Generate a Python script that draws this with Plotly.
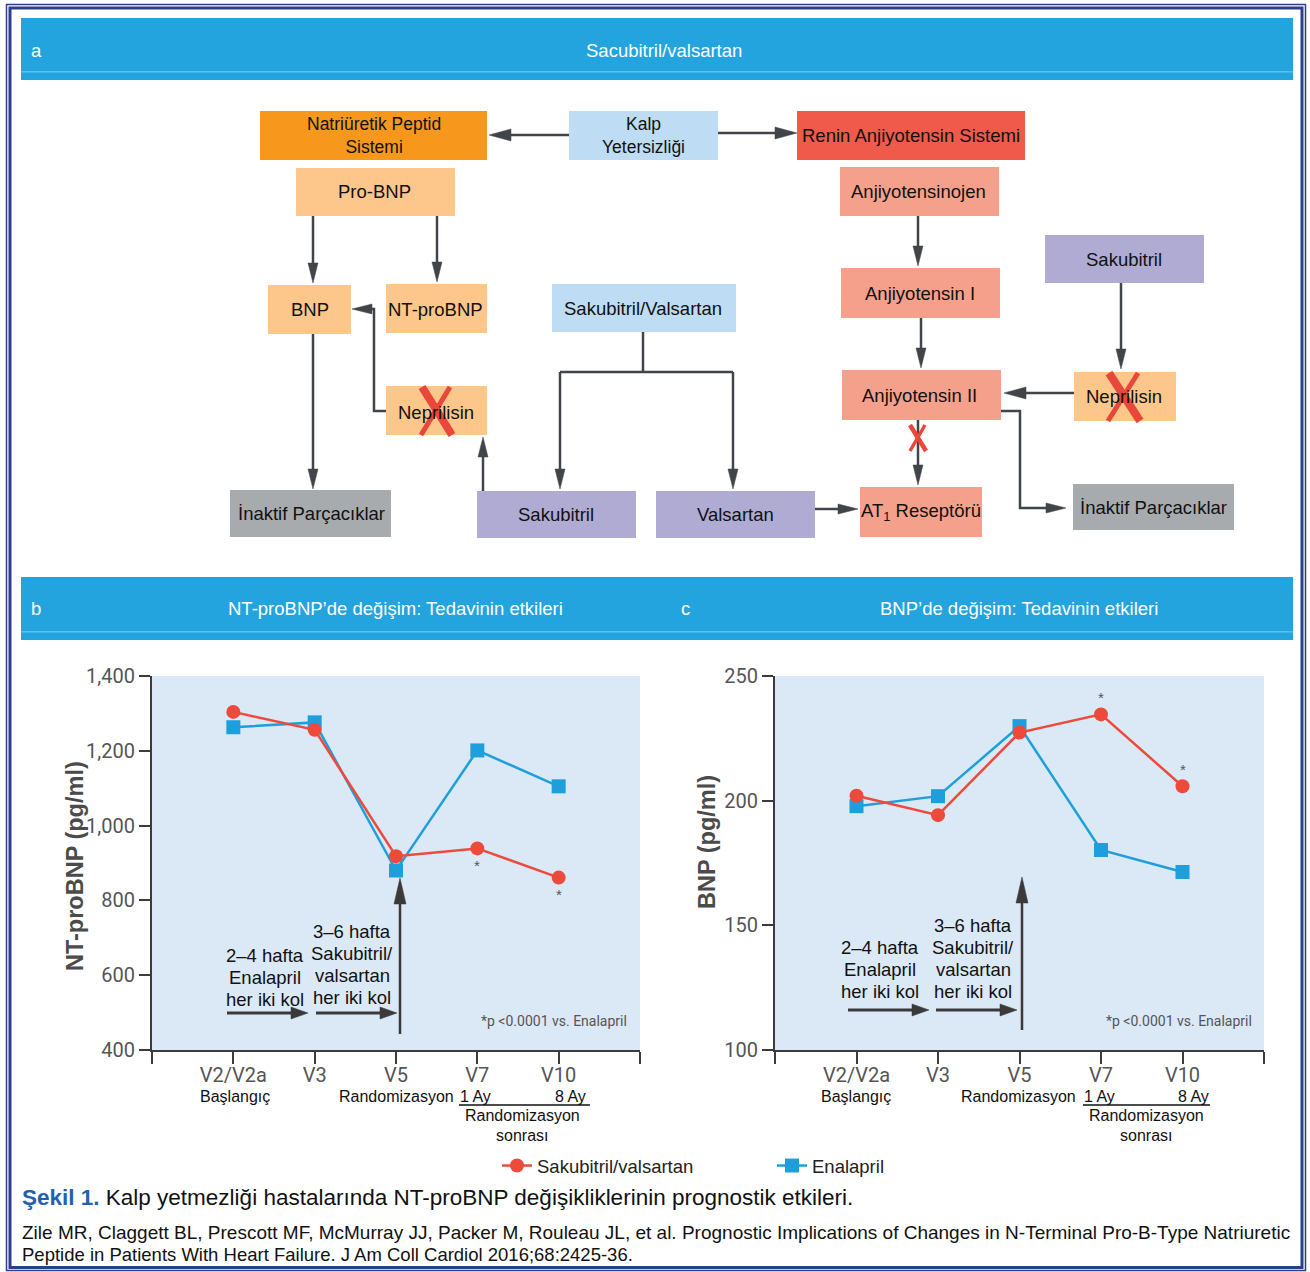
import plotly.graph_objects as go

# ---------------- data ----------------
categories = ["V2/V2a", "V3", "V5", "V7", "V10"]
ntprobnp_sacval = [1304, 1256, 918, 939, 861]
ntprobnp_enal = [1263, 1276, 880, 1201, 1105]
bnp_sacval = [202.0, 194.2, 227.3, 234.6, 205.8]
bnp_enal = [197.8, 201.8, 229.9, 180.2, 171.4]
ntprobnp_ticks = [400, 600, 800, 1000, 1200, 1400]
bnp_ticks = [100, 150, 200, 250]
series_names = ["Sakubitril/valsartan", "Enalapril"]
significant_points = ["V7", "V10"]

# ---------------- helpers ----------------
W, H = 1310, 1272
def X(p): return p / W
def Y(p): return 1 - p / H

SANS = "Liberation Sans, Arial, Helvetica, sans-serif"
COND = "Roboto, Liberation Sans, sans-serif"
RED = "#ee4a3b"
BLUE = "#1e9fdb"
DARK = "#414448"
HEADER = "#23a4de"
ORANGE = "#f7981d"
RENIN = "#ef5a4a"
PEACH = "#fdc68a"
SALMON = "#f5a08a"
LBLUE = "#bedcf3"
PURPLE = "#afabd2"
GREY = "#a8abae"
XRED = "#e9473a"
FS = 18.5

shapes = []
annotations = []

def rect(x0, y0, x1, y1, color, line=None, lw=0):
    d = dict(type="rect", xref="paper", yref="paper", x0=X(x0), x1=X(x1),
             y0=Y(y1), y1=Y(y0), fillcolor=color, line=dict(width=lw, color=line or color))
    if color is None:
        d["fillcolor"] = "rgba(0,0,0,0)"
    shapes.append(d)

def seg(x0, y0, x1, y1, color=DARK, width=2.5):
    shapes.append(dict(type="line", xref="paper", yref="paper", x0=X(x0), y0=Y(y0),
                       x1=X(x1), y1=Y(y1), line=dict(color=color, width=width)))

def path(pts, color=DARK, width=2.5, fill=None):
    s = "M " + " L ".join(f"{X(a):.6f},{Y(b):.6f}" for a, b in pts)
    d = dict(type="path", xref="paper", yref="paper", path=s + (" Z" if fill else ""),
             line=dict(color=color, width=width if not fill else 0.5))
    if fill:
        d["fillcolor"] = fill
    shapes.append(d)

def arrow(pts, hl=20, hw=5, color=DARK, width=2.5):
    (ax, ay), (tx, ty) = pts[-2], pts[-1]
    L = ((tx - ax) ** 2 + (ty - ay) ** 2) ** 0.5
    dx, dy = (tx - ax) / L, (ty - ay) / L
    bx, by = tx - dx * hl, ty - dy * hl
    path(list(pts[:-1]) + [(bx + dx * 2, by + dy * 2)], color=color, width=width)
    nx, ny = -dy, dx
    path([(tx, ty), (bx + nx * hw, by + ny * hw), (bx - nx * hw, by - ny * hw)],
         color=color, fill=color)

def text(x, y, t, size=FS, color="#111111", family=SANS, anchor="center", angle=0):
    annotations.append(dict(x=X(x), y=Y(y), xref="paper", yref="paper", text=t,
                            showarrow=False, xanchor=anchor, yanchor="middle",
                            font=dict(size=size, color=color, family=family),
                            textangle=angle))

# ---------------- frame & headers ----------------
rect(6.5, 4.5, 1305.5, 1270.5, None, line="#2c3f8f", lw=1.5)
rect(10, 8, 1302, 1267.5, None, line="#2c3f8f", lw=3)
rect(21, 18, 1293, 80, HEADER)
rect(21, 71, 1293, 72.5, "#5fbfe9")
rect(21, 577, 1293, 640, HEADER)
rect(21, 631, 1293, 632.5, "#5fbfe9")
text(29, 50, "a", FS, "white", anchor="left")
text(664, 50, "Sacubitril/valsartan", FS, "white")
text(29, 608, "b", FS, "white", anchor="left")
text(395, 608, "NT-proBNP’de değişim: Tedavinin etkileri", FS, "white")
text(679, 608, "c", FS, "white", anchor="left")
text(1019, 608, "BNP’de değişim: Tedavinin etkileri", FS, "white")

# ---------------- diagram ----------------
boxes = [
    (260, 111, 487, 160, ORANGE), (569, 111, 718, 160, LBLUE), (797, 111, 1025, 160, RENIN),
    (296, 168, 455, 216, PEACH), (840, 167, 999, 216, SALMON), (268, 285, 351, 334, PEACH),
    (386, 284, 487, 333, PEACH), (552, 284, 736, 332, LBLUE), (841, 268, 1000, 318, SALMON),
    (1045, 235, 1204, 283, PURPLE), (386, 386, 487, 435, PEACH), (842, 370, 1001, 420, SALMON),
    (1074, 372, 1176, 421, PEACH), (230, 490, 391, 537, GREY), (477, 491, 636, 538, PURPLE),
    (656, 491, 815, 538, PURPLE), (860, 487, 982, 537, SALMON), (1073, 484, 1234, 530, GREY),
]
for b in boxes:
    rect(*b)

arrow([(569, 135), (489, 135)], hl=22, hw=6)
arrow([(718, 133), (797, 133)], hl=22, hw=6)
arrow([(313, 216), (313, 283)])
arrow([(437, 216), (437, 282)])
arrow([(313, 334), (313, 489)])
arrow([(386, 411), (374, 411), (374, 309), (352, 309)])
arrow([(483, 491), (483, 437)])
seg(643, 332, 643, 372)
seg(560, 372, 733, 372)
arrow([(560, 372), (560, 489)])
arrow([(733, 372), (733, 489)])
arrow([(815, 509), (858, 509)])
arrow([(918, 216), (918, 266)])
arrow([(921, 318), (921, 368)])
arrow([(1121, 283), (1121, 369)])
arrow([(1074, 393), (1004, 393)], hl=22, hw=6)
arrow([(918, 420), (918, 485)])
arrow([(1001, 411), (1020, 411), (1020, 508), (1066, 508)])

seg(422, 387, 452, 435, XRED, 8)
seg(450, 387, 421, 435, XRED, 5)
seg(1109, 373, 1140, 421, XRED, 8)
seg(1138, 373, 1108, 421, XRED, 5)
seg(910, 425, 926, 451, XRED, 4.5)
seg(925, 425, 910, 451, XRED, 3.5)

text(374, 136, "Natriüretik Peptid<br>Sistemi", 17.5)
text(643, 136, "Kalp<br>Yetersizliği", 17.5)
text(911, 136, "Renin Anjiyotensin Sistemi")
text(375, 192, "Pro-BNP")
text(918, 192, "Anjiyotensinojen")
text(310, 309, "BNP")
text(436, 309, "NT-proBNP")
text(643, 308, "Sakubitril/Valsartan")
text(920, 293, "Anjiyotensin I")
text(1124, 259, "Sakubitril")
text(436, 412, "Neprilisin")
text(920, 395, "Anjiyotensin II")
text(1124, 396, "Neprilisin")
text(311, 513, "İnaktif Parçacıklar")
text(556, 514, "Sakubitril")
text(735, 514, "Valsartan")
text(921, 512, "AT<sub>1</sub> Reseptörü")
text(1153, 507, "İnaktif Parçacıklar")

# ---------------- charts ----------------
idx = list(range(len(categories)))
fig = go.Figure()
fig.add_trace(go.Scatter(x=idx, y=ntprobnp_enal, mode="lines+markers", name=series_names[1],
                         line=dict(color=BLUE, width=2.5),
                         marker=dict(symbol="square", size=14, color=BLUE),
                         xaxis="x", yaxis="y", legend="legend2"))
fig.add_trace(go.Scatter(x=idx, y=ntprobnp_sacval, mode="lines+markers", name=series_names[0],
                         line=dict(color=RED, width=2.5),
                         marker=dict(symbol="circle", size=14, color=RED),
                         xaxis="x", yaxis="y", legend="legend"))
fig.add_trace(go.Scatter(x=idx, y=bnp_enal, mode="lines+markers", name=series_names[1],
                         line=dict(color=BLUE, width=2.5),
                         marker=dict(symbol="square", size=14, color=BLUE),
                         xaxis="x2", yaxis="y2", showlegend=False))
fig.add_trace(go.Scatter(x=idx, y=bnp_sacval, mode="lines+markers", name=series_names[0],
                         line=dict(color=RED, width=2.5),
                         marker=dict(symbol="circle", size=14, color=RED),
                         xaxis="x2", yaxis="y2", showlegend=False))

for c in significant_points:
    i = categories.index(c)
    annotations.append(dict(x=i, y=ntprobnp_sacval[i], xref="x", yref="y", text="*",
                            showarrow=False, yshift=-17,
                            font=dict(size=15, color="#555", family=SANS)))
    annotations.append(dict(x=i, y=bnp_sacval[i], xref="x2", yref="y2", text="*",
                            showarrow=False, yshift=17,
                            font=dict(size=15, color="#555", family=SANS)))

for cx1, cx2, t1, t2 in ((265, 352, 955, 931), (880, 973, 947, 925)):
    for k, s in enumerate(["2–4 hafta", "Enalapril", "her iki kol"]):
        text(cx1, t1 + 22 * k, s, 18.5)
    for k, s in enumerate(["3–6 hafta", "Sakubitril/", "valsartan", "her iki kol"]):
        text(cx2, t2 + 22.3 * k, s, 18.5)

arrow([(227, 1013), (308, 1013)], hl=17, hw=6, color="#3a3a3a", width=3)
arrow([(316, 1013), (397, 1013)], hl=17, hw=6, color="#3a3a3a", width=3)
arrow([(400, 1034), (400, 878)], hl=26, hw=6, color="#3a3a3a", width=2.5)
arrow([(848, 1010), (929, 1010)], hl=17, hw=6, color="#3a3a3a", width=3)
arrow([(936, 1010), (1017, 1010)], hl=17, hw=6, color="#3a3a3a", width=3)
arrow([(1022, 1030), (1022, 877)], hl=26, hw=6, color="#3a3a3a", width=2.5)

text(554, 1021, "*p &lt;0.0001 vs. Enalapril", 14, "#555", COND)
text(1179, 1021, "*p &lt;0.0001 vs. Enalapril", 14, "#555", COND)

for (b0, r0, a1, a8, l0, l1, rc) in ((235, 396, 475, 570, 459, 590, 522),
                                     (856, 1018, 1099, 1193, 1083, 1210, 1146)):
    text(b0, 1096, "Başlangıç", 16)
    text(r0, 1096, "Randomizasyon", 16)
    text(a1, 1096, "1 Ay", 16)
    text(a8, 1096, "8 Ay", 16)
    seg(l0, 1105, l1, 1105, "#111", 1.5)
    text(rc, 1115, "Randomizasyon", 16)
    text(rc, 1135, "sonrası", 16)

text(75, 866, "<b>NT-proBNP (pg/ml)</b>", 23.5, "#4b4b4b", angle=-90)
text(707, 842, "<b>BNP (pg/ml)</b>", 23.5, "#4b4b4b", angle=-90)

text(20, 1197, "<span style='color:#2361ae'><b>Şekil 1.</b></span> Kalp yetmezliği hastalarında "
     "NT-proBNP değişikliklerinin prognostik etkileri.", 22.5, "#111", anchor="left")
text(20, 1232, "Zile MR, Claggett BL, Prescott MF, McMurray JJ, Packer M, Rouleau JL, et al. "
     "Prognostic Implications of Changes in N-Terminal Pro-B-Type Natriuretic", 19, "#111", anchor="left")
text(20, 1254, "Peptide in Patients With Heart Failure. J Am Coll Cardiol 2016;68:2425-36.",
     18.5, "#111", anchor="left")

axis_common = dict(showline=True, linecolor="#3c3c3c", linewidth=2, ticks="outside",
                   tickcolor="#3c3c3c", tickwidth=2, showgrid=False, zeroline=False,
                   tickfont=dict(family=COND, size=20, color="#555"))
xt = dict(tickvals=idx, ticktext=categories, range=[-1, len(categories)], ticklen=12,
          ticklabelstandoff=-6,
          minor=dict(tickvals=[-1, len(categories)], ticks="outside", ticklen=12,
                     tickwidth=2, tickcolor="#3c3c3c", showgrid=False))

fig.update_layout(
    width=W, height=H, margin=dict(l=0, r=0, t=0, b=0, autoexpand=False),
    paper_bgcolor="white", plot_bgcolor="#dbe8f5",
    xaxis=dict(domain=[X(152), X(640)], anchor="y", **xt, **axis_common),
    yaxis=dict(domain=[Y(1050), Y(676)], anchor="x", range=[400, 1400],
               tickvals=ntprobnp_ticks, tickformat=",", ticklen=11, **axis_common),
    xaxis2=dict(domain=[X(775), X(1264)], anchor="y2", **xt, **axis_common),
    yaxis2=dict(domain=[Y(1050), Y(676)], anchor="x2", range=[100, 250],
                tickvals=bnp_ticks, ticklen=11, **axis_common),
    legend=dict(x=X(497), y=Y(1166), xanchor="left", yanchor="middle", orientation="h",
                font=dict(family=SANS, size=18.5, color="#222"), bgcolor="rgba(0,0,0,0)"),
    legend2=dict(x=X(772), y=Y(1166), xanchor="left", yanchor="middle", orientation="h",
                 font=dict(family=SANS, size=18.5, color="#222"), bgcolor="rgba(0,0,0,0)"),
    shapes=shapes, annotations=annotations, showlegend=True,
)

fig.write_html("out.html", config={"displayModeBar": False},
               post_script="document.body.style.margin='0px';")
